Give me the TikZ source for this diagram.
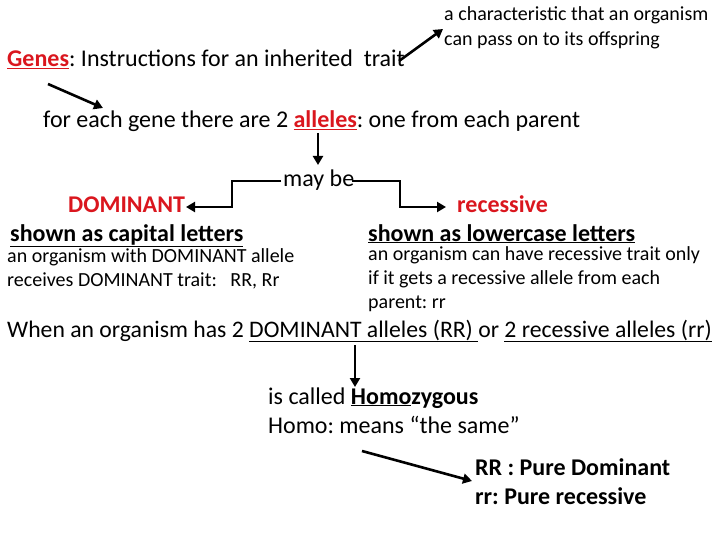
\documentclass[tikz,border=0pt]{standalone}
\usepackage{fontspec}
\setmainfont{Carlito}
\usetikzlibrary{arrows.meta}
\definecolor{myred}{RGB}{218,22,30}
\frenchspacing
\begin{document}
\begin{tikzpicture}[x=1pt,y=-1pt,
  txt/.style={anchor=base west, inner sep=0pt, font=\fontsize{24}{28}\selectfont},
  small/.style={anchor=base west, inner sep=0pt, font=\fontsize{20}{24}\selectfont},
  big/.style={anchor=base west, inner sep=0pt, font=\fontsize{24}{28}\selectfont\bfseries},
  arr/.style={line width=2.6pt, -{Triangle[length=9pt,width=10pt]}}]
\useasboundingbox (0,0) rectangle (720,540);
% texts
\node[txt] (genes) at (7,67) {\textcolor{myred}{\underline{\textbf{Genes}}}: Instructions for an inherited\ \ trait};
\node[small] (char1) at (444,21) {a characteristic that an organism};
\node[small] (char2) at (444,46) {can pass on to its offspring};
\node[txt] (alle) at (43,128) {for each gene there are 2 \textcolor{myred}{\underline{\textbf{alleles}}}: one from each parent};
\node[txt] (maybe) at (283,187) {may be};
\node[big, text=myred] (dom) at (68,212) {DOMINANT};
\node[big, text=myred] (rec) at (457,212) {recessive};
\node[big] (cap) at (10,241) {\underline{shown as capital letters}};
\node[big] (low) at (368,241) {\underline{shown as lowercase letters}};
\node[small] (l1) at (7,262) {an organism with DOMINANT allele};
\node[small] (l2) at (7,286) {receives DOMINANT trait:\ \ \ RR, Rr};
\node[small] (r1) at (368,260) {an organism can have recessive trait only};
\node[small] (r2) at (368,284) {if it gets a recessive allele from each};
\node[small] (r3) at (368,308) {parent: rr};
\node[txt, font=\fontsize{23.7}{28}\selectfont] (when) at (7,337) {When an organism has 2 \underline{DOMINANT alleles (RR)\ }or \underline{2 recessive alleles (rr)}};
\node[txt] (homoz) at (268,404) {is called \textbf{\underline{Homo}zygous}};
\node[txt] (homo) at (268,433) {Homo: means “the same”};
\node[big] (pd) at (475,475) {RR : Pure Dominant};
\node[big] (pr) at (475,504) {rr: Pure recessive};
% connector end points
\coordinate (gA) at (48,84);
\coordinate (gB) at (103,108);
\coordinate (tA) at (399,61);
\coordinate (tB) at (443,29);
\coordinate (aA) at (318,133);
\coordinate (aB) at (318,165);
\coordinate (mL) at (281,181);
\coordinate (mR) at (352,181);
\coordinate (dB) at (186,207);
\coordinate (rB) at (446,207);
\coordinate (wA) at (355,345);
\coordinate (wB) at (355,387);
\coordinate (hA) at (362,451);
\coordinate (hB) at (472,481);
% connectors
\draw[arr] (gA) -- (gB);
\draw[arr] (tA) -- (tB);
\draw[arr] (aA) -- (aB);
\draw[arr] (mL) -- (232,181) -- (232,207) -- (dB);
\draw[arr] (mR) -- (400,181) -- (400,207) -- (rB);
\draw[arr] (wA) -- (wB);
\draw[arr] (hA) -- (hB);
\end{tikzpicture}
\end{document}
